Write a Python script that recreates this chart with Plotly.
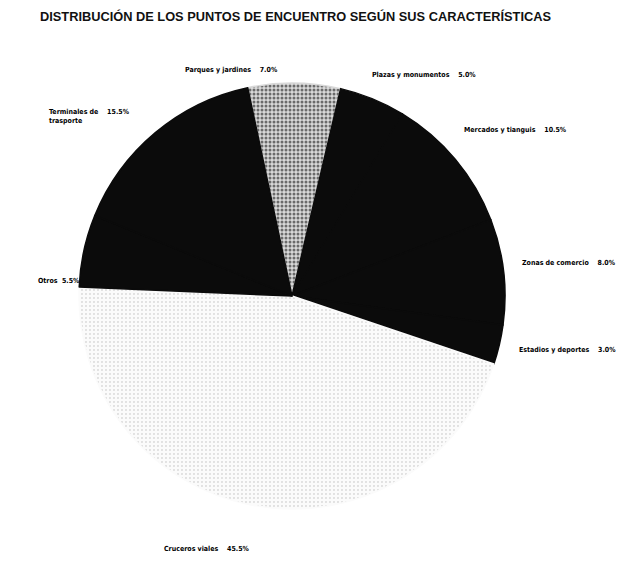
import plotly.graph_objects as go

categories = ["Parques y jardines", "Plazas y monumentos", "Mercados y tianguis",
              "Zonas de comercio", "Estadios y deportes", "Cruceros viales",
              "Otros", "Terminales de trasporte"]
values = [7.0, 5.0, 10.5, 8.0, 3.0, 45.5, 5.5, 15.5]

# label placement (pixels in the 632x561 window)
label_px = [(183, 70), (370, 75), (462, 130), (520, 263), (517, 350),
            (162, 549), (36, 281), (47, 112)]
label_gap = [4, 4, 4, 4, 4, 4, 2, 4]

OFF = 8  # default page body margin
W, H = 632 - OFF, 561 - OFF


def fx(px):
    return (px - OFF) / W


def fy(py):
    return 1 - (py - OFF) / H


dark = "#0b0b0b"
colors = ["#d9d9d9", dark, dark, dark, dark, "#fbfbfb", dark, dark]
shapes = [".", "", "", "", "", ".", "", ""]
fg = ["#6a6a6a", dark, dark, dark, dark, "#b5b5b5", dark, dark]
solid = [0.45, 0.3, 0.3, 0.3, 0.3, 0.08, 0.3, 0.3]

fig = go.Figure(go.Pie(
    labels=categories, values=values, sort=False, direction="clockwise",
    rotation=-12, textinfo="none", hoverinfo="label+percent",
    marker=dict(colors=colors, line=dict(width=1.5, color=colors),
                pattern=dict(shape=shapes, fgcolor=fg, bgcolor=colors,
                             size=4, solidity=solid)),
    domain=dict(x=[fx(79), fx(505)], y=[fy(512), fy(80)]),
    showlegend=False,
))

font = dict(family="DejaVu Sans Condensed, Liberation Sans Narrow, Arial Narrow, sans-serif",
            size=7, color="black")
anns = []
for name, v, (px, py), g in zip(categories, values, label_px, label_gap):
    pct = f"{v:.1f}%"
    sp = " " * g
    if name.startswith("Terminales"):
        txt = f"<b>Terminales de{sp}{pct}<br>trasporte</b>"
        yanchor = "top"
        py = py - 6
    else:
        txt = f"<b>{name}{sp}{pct}</b>"
        yanchor = "middle"
    anns.append(dict(text=txt, x=fx(px), y=fy(py), xref="paper", yref="paper",
                     xanchor="left", yanchor=yanchor, showarrow=False,
                     align="left", font=font))

fig.update_layout(
    width=W, height=H,
    margin=dict(l=0, r=0, t=0, b=0),
    paper_bgcolor="white", plot_bgcolor="white",
    title=dict(text="<b>DISTRIBUCIÓN DE LOS PUNTOS DE ENCUENTRO SEGÚN SUS CARACTERÍSTICAS</b>",
               x=fx(40), xanchor="left", y=fy(17), yanchor="middle",
               font=dict(family="Liberation Sans, Arial, sans-serif", size=12.8, color="#111")),
    annotations=anns,
)

fig.write_html("out.html")
